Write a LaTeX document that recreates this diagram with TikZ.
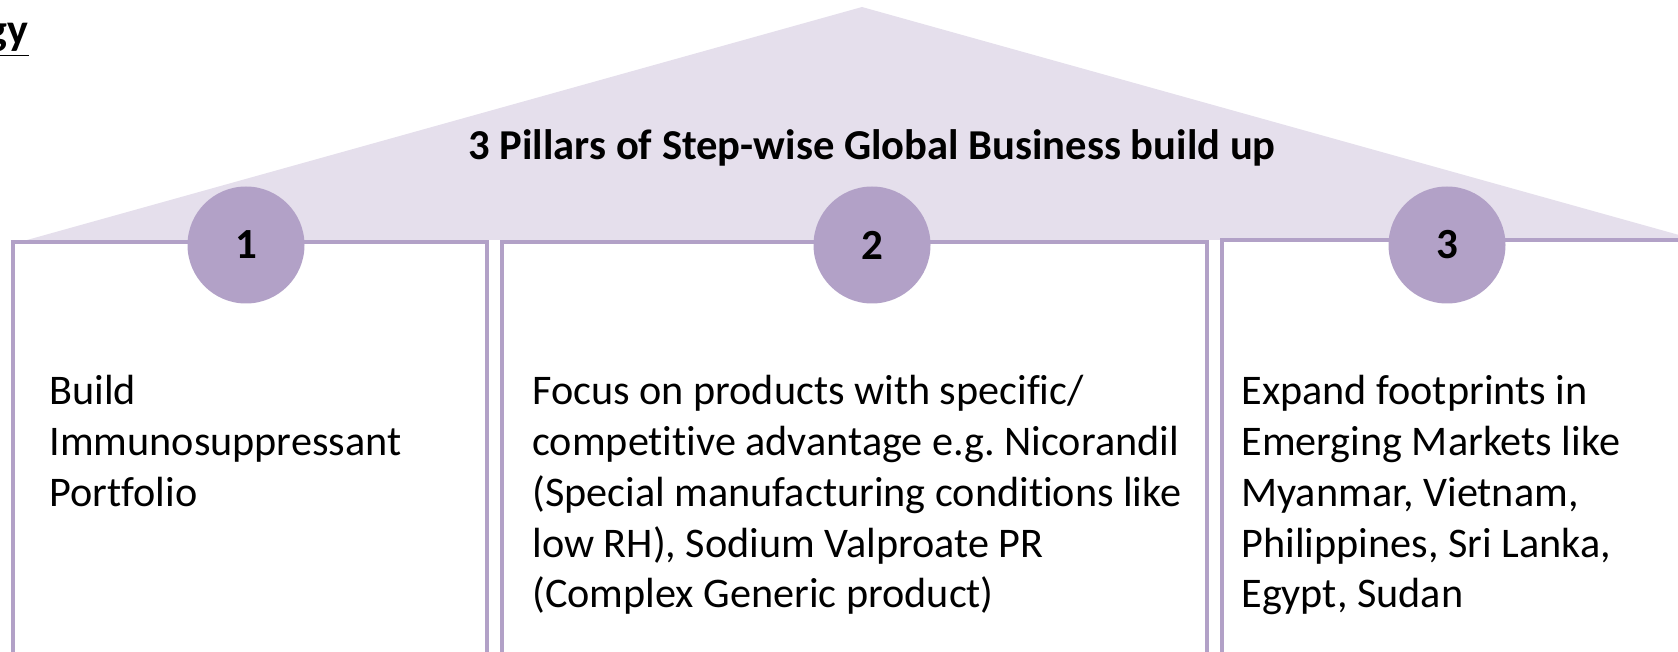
\documentclass[tikz,border=0pt]{standalone}
\usepackage{fontspec}
\setmainfont{Carlito}[Ligatures=NoCommon]
\usepackage{xcolor}
\definecolor{roof}{HTML}{E5DFEC}
\definecolor{pillar}{HTML}{B2A1C7}
\frenchspacing
\tikzset{
    pillar-box/.style = {draw=pillar, line width=2pt},
    pillar-num/.style = {circle, fill=pillar, minimum size=58.5pt, inner sep=0pt, font=\fontsize{21.5}{25}\selectfont\bfseries},
    pillar-text/.style = {anchor=north west, inner sep=0pt, align=left, font=\fontsize{21.1}{25.4}\selectfont},
}

\begin{document}
\begin{tikzpicture}[x=0.5pt, y=-0.5pt]
\useasboundingbox (0,0) rectangle (1678,652);
\node[anchor=base east, inner sep=0pt, font=\fontsize{22}{26}\selectfont\bfseries] (head) at (29,45) {\underline{gy}};
\fill[roof] (27,240) -- (862,7) -- (1697,240) -- cycle;
\node[font=\fontsize{21.3}{25}\selectfont\bfseries] (roof-title) at (872,148) {3 Pillars of Step-wise Global Business build up};
\draw[pillar-box] (13,700) |- (487,242) -- (487,700);
\draw[pillar-box] (502,700) |- (1207,242) -- (1207,700);
\draw[pillar-box] (1222,700) |- (1720,240);
\node[pillar-num] (num1) at (246,245) {1};
\node[pillar-num] (num2) at (872,245) {2};
\node[pillar-num] (num3) at (1447,245) {3};
\node[pillar-text] (text1) at (49,375) {Build\\Immunosuppressant\\Portfolio};
\node[pillar-text] (text2) at (532,375) {Focus on products with specific/\\competitive advantage e.g. Nicorandil\\(Special manufacturing conditions like\\low RH), Sodium Valproate PR\\(Complex Generic product)};
\node[pillar-text] (text3) at (1241,375) {Expand footprints in\\Emerging Markets like\\Myanmar, Vietnam,\\Philippines, Sri Lanka,\\Egypt, Sudan};
\end{tikzpicture}
\end{document}
